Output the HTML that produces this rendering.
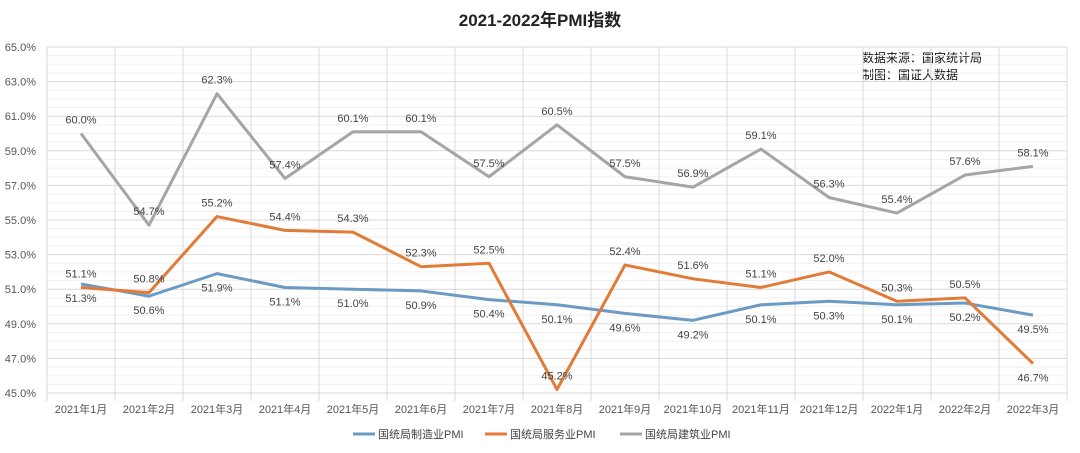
<!DOCTYPE html>
<html><head><meta charset="utf-8">
<style>
body{margin:0;background:#fff;}
svg{display:block;font-family:"Liberation Sans","Noto Sans CJK SC",sans-serif;}
</style></head>
<body>
<svg id="chart" width="1080" height="453" viewBox="0 0 1080 453">
<rect width="1080" height="453" fill="#fff"/>
<text x="540" y="26" text-anchor="middle" font-size="17" font-weight="bold" fill="#222">2021-2022年PMI指数</text>
<text x="862" y="62" font-size="12" fill="#111">数据来源：国家统计局</text>
<text x="862" y="79" font-size="12" fill="#111">制图：国证大数据</text>
<g id="grid"></g><g id="axes"></g><g id="series"></g><g id="legend"></g>
</svg>
<script>
const categories=["2021年1月","2021年2月","2021年3月","2021年4月","2021年5月","2021年6月","2021年7月","2021年8月","2021年9月","2021年10月","2021年11月","2021年12月","2022年1月","2022年2月","2022年3月"];
const manufacturing=[51.3,50.6,51.9,51.1,51.0,50.9,50.4,50.1,49.6,49.2,50.1,50.3,50.1,50.2,49.5];
const services=[51.1,50.8,55.2,54.4,54.3,52.3,52.5,45.2,52.4,51.6,51.1,52.0,50.3,50.5,46.7];
const construction=[60.0,54.7,62.3,57.4,60.1,60.1,57.5,60.5,57.5,56.9,59.1,56.3,55.4,57.6,58.1];
const yTicks=[45,47,49,51,53,55,57,59,61,63,65];
const seriesNames=["国统局制造业PMI","国统局服务业PMI","国统局建筑业PMI"];

const NS="http://www.w3.org/2000/svg";
const L=47,R=1067,T=47,B=393,yMin=45,yMax=65;
const step=(R-L)/categories.length;
const x=i=>L+step*(i+0.5);
const y=v=>B-(v-yMin)/(yMax-yMin)*(B-T);
function mk(tag,attrs,parent){const e=document.createElementNS(NS,tag);for(const k in attrs)e.setAttribute(k,attrs[k]);parent.appendChild(e);return e;}
const grid=document.getElementById('grid'),axes=document.getElementById('axes'),ser=document.getElementById('series'),leg=document.getElementById('legend');
for(let v=yMin;v<=yMax;v+=0.5){
  const major=yTicks.includes(v);
  const ln=mk('line',{x1:L,x2:R,y1:y(v),y2:y(v),stroke:major?'#d9d9d9':'#f0f0f0','stroke-width':1},grid);
  
  
}
for(let i=0;i<=categories.length;i++){
  const ln=mk('line',{x1:L+step*i,x2:L+step*i,y1:T,y2:B+8,stroke:'#d9d9d9','stroke-width':1},grid);
  
  
}
yTicks.forEach(v=>{
  const t=mk('text',{x:36,y:y(v)+4,'text-anchor':'end','font-size':11,fill:'#555'},axes);
  t.textContent=v.toFixed(1)+'%';
  
  
});
categories.forEach((c,i)=>{
  const t=mk('text',{x:x(i),y:413,'text-anchor':'middle','font-size':11,fill:'#555'},axes);
  t.textContent=c;
  
  
});
const defs=[
  {data:manufacturing,color:'#6b9bc3',name:'manufacturing',below:true},
  {data:services,color:'#e07b39',name:'services',below:false},
  {data:construction,color:'#a5a5a5',name:'construction',below:false}
];
defs.forEach(s=>{
  const p=mk('polyline',{points:s.data.map((v,i)=>x(i)+','+y(v)).join(' '),fill:'none',stroke:s.color,'stroke-width':3,'stroke-linejoin':'round'},ser);
  
  
  s.data.forEach((v,i)=>{
    let below=s.below;
    if(s.name==='services'&&i===s.data.length-1)below=true;
    const t=mk('text',{x:x(i),y:below?y(v)+18:y(v)-10,'text-anchor':'middle','font-size':11,fill:'#444'},ser);
    t.textContent=v.toFixed(1)+'%';
    
    
  });
});
const lx=[353,485,620];
defs.forEach((s,k)=>{
  const ln=mk('line',{x1:lx[k],x2:lx[k]+22,y1:434,y2:434,stroke:s.color,'stroke-width':3},leg);
  
  
  const t=mk('text',{x:lx[k]+25,y:438,'font-size':11,fill:'#444'},leg);
  t.textContent=seriesNames[k];
  
  
});
</script>
</body></html>
